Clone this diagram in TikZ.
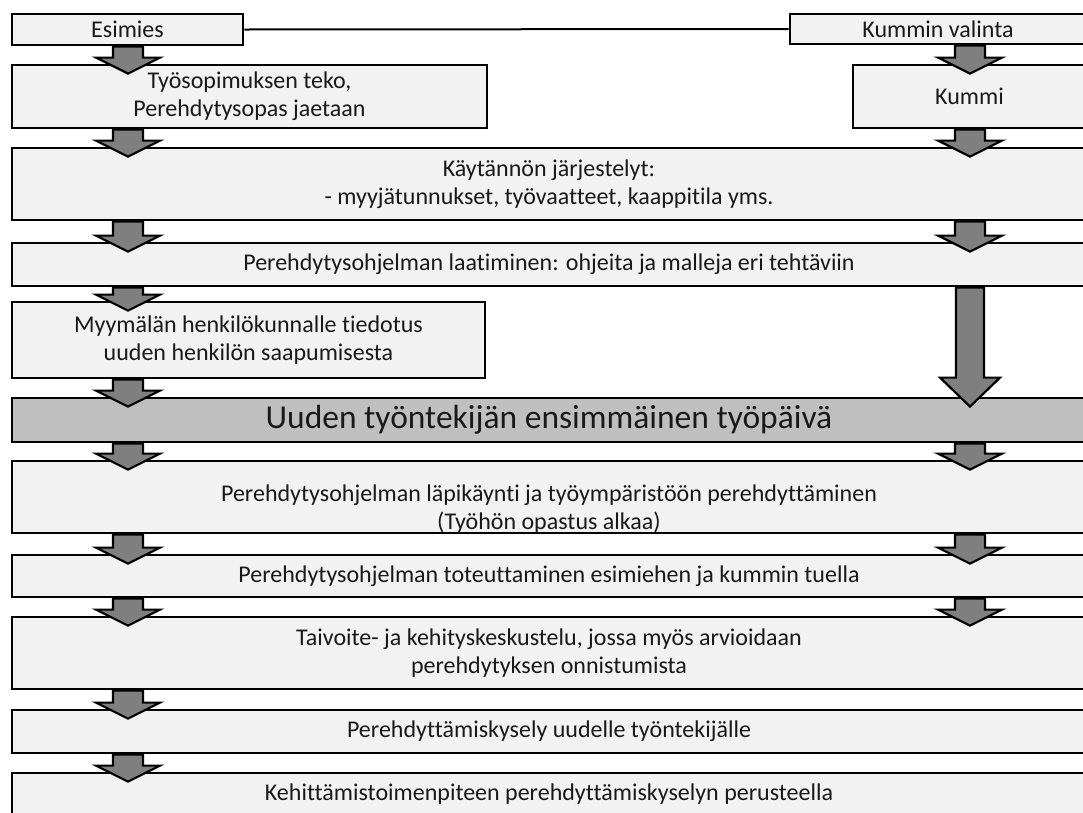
\documentclass[tikz,border=0pt]{standalone}
\usepackage{fontspec}
\setmainfont{Carlito}[Ligatures=NoCommon]
\usetikzlibrary{calc}
\definecolor{boxfill}{HTML}{F2F2F2}
\definecolor{dayfill}{HTML}{BFBFBF}
\definecolor{arrowfill}{HTML}{7F7F7F}
\tikzset{
  flowbox/.style={draw=black, line width=2.8pt, fill=boxfill, inner sep=0pt,
    align=center, text=black!90, font=\fontsize{24}{28}\selectfont},
  daybox/.style={flowbox, fill=dayfill, font=\fontsize{33.5}{36}\selectfont},
  blockarrow/.style={draw=black, line width=2.2pt, fill=arrowfill, line join=miter},
  linkline/.style={draw=black, line width=2pt},
}
% block arrow: #1 start point, #2 top of target box,
% #3 shaft half width, #4 head half width, #5 head length
\newcommand\flowarrow[5]{%
  \path[blockarrow] let \p1=(#1), \p2=(#2) in
    (\x1-#3pt,\y1) -- (\x1+#3pt,\y1) -- (\x1+#3pt,\y2-10pt+#5pt)
    -- (\x1+#4pt,\y2-10pt+#5pt) -- (\x1,\y2-10pt)
    -- (\x1-#4pt,\y2-10pt+#5pt) -- (\x1-#3pt,\y2-10pt+#5pt) -- cycle;}
\begin{document}
\begin{tikzpicture}[x=1pt, y=-1pt]
\useasboundingbox (0,0) rectangle (1083,812);
\clip (0,0) rectangle (1083,812);
\fill[white] (0,0) rectangle (1083,812);

% column positions of the two arrow lanes
\coordinate (L) at (128,0);
\coordinate (R) at (970,0);

% boxes
\node[flowbox, minimum width=231pt, minimum height=31pt] (esimies) at (127.5,29.5) {Esimies};
\node[flowbox, minimum width=296pt, minimum height=30pt] (kvalinta) at (938,29) {Kummin valinta};
\node[flowbox, minimum width=475pt, minimum height=63pt] (sopimus) at (249.5,96.5)
  {Työsopimuksen teko,\\Perehdytysopas jaetaan};
\node[flowbox, minimum width=233pt, minimum height=63pt] (kummi) at (969.5,96.5) {Kummi};
\node[flowbox, minimum width=1074pt, minimum height=72pt] (kaytanto) at (549,184)
  {Käytännön järjestelyt:\\- myyjätunnukset, työvaatteet, kaappitila yms.};
\node[flowbox, minimum width=1074pt, minimum height=43pt] (ohjelma) at (549,264.5)
  {Perehdytysohjelman laatiminen: ohjeita ja malleja eri tehtäviin};
\node[flowbox, minimum width=473pt, minimum height=76pt] (tiedotus) at (248.5,340)
  {Myymälän henkilökunnalle tiedotus\\uuden henkilön saapumisesta};
\node[daybox, minimum width=1074pt, minimum height=44pt] (paiva) at (549,420)
  {Uuden työntekijän ensimmäinen työpäivä};
\node[flowbox, minimum width=1074pt, minimum height=72pt] (lapikaynti) at (549,497)
  {\rule{0pt}{40pt}Perehdytysohjelman läpikäynti ja työympäristöön perehdyttäminen\\(Työhön opastus alkaa)};
\node[flowbox, minimum width=1074pt, minimum height=42pt] (toteutus) at (549,576)
  {Perehdytysohjelman toteuttaminen esimiehen ja kummin tuella};
\node[flowbox, minimum width=1074pt, minimum height=72pt] (keskustelu) at (549,653)
  {Taivoite- ja kehityskeskustelu, jossa myös arvioidaan\\perehdytyksen onnistumista};
\node[flowbox, minimum width=1074pt, minimum height=43pt] (kysely) at (549,731.5)
  {Perehdyttämiskysely uudelle työntekijälle};
\node[flowbox, minimum width=1074pt, minimum height=43pt] (kehitys) at (549,794.5)
  {Kehittämistoimenpiteen perehdyttämiskyselyn perusteella};

% link between the two starting boxes
\draw[linkline] (esimies.east) -- (kvalinta.west);

% left lane arrows
\flowarrow{L |- esimies.south}{L |- sopimus.north}{15}{32}{16}
\flowarrow{L |- sopimus.south}{L |- kaytanto.north}{15}{32}{16}
\flowarrow{L |- kaytanto.south}{L |- ohjelma.north}{15}{32}{16}
\flowarrow{L |- ohjelma.south}{L |- tiedotus.north}{15}{32}{16}
\flowarrow{L |- tiedotus.south}{L |- paiva.north}{15}{32}{16}
\flowarrow{L |- paiva.south}{L |- lapikaynti.north}{15}{32}{16}
\flowarrow{L |- lapikaynti.south}{L |- toteutus.north}{15}{32}{16}
\flowarrow{L |- toteutus.south}{L |- keskustelu.north}{15}{32}{16}
\flowarrow{L |- keskustelu.south}{L |- kysely.north}{15}{32}{16}
\flowarrow{L |- kysely.south}{L |- kehitys.north}{15}{32}{16}

% right lane arrows
\flowarrow{R |- kvalinta.south}{R |- kummi.north}{15}{32}{16}
\flowarrow{R |- kummi.south}{R |- kaytanto.north}{15}{32}{16}
\flowarrow{R |- kaytanto.south}{R |- ohjelma.north}{15}{32}{16}
\flowarrow{R |- ohjelma.south}{R |- paiva.north}{14}{30}{29}
\flowarrow{R |- paiva.south}{R |- lapikaynti.north}{15}{32}{16}
\flowarrow{R |- lapikaynti.south}{R |- toteutus.north}{15}{32}{16}
\flowarrow{R |- toteutus.south}{R |- keskustelu.north}{15}{32}{16}
\end{tikzpicture}
\end{document}
